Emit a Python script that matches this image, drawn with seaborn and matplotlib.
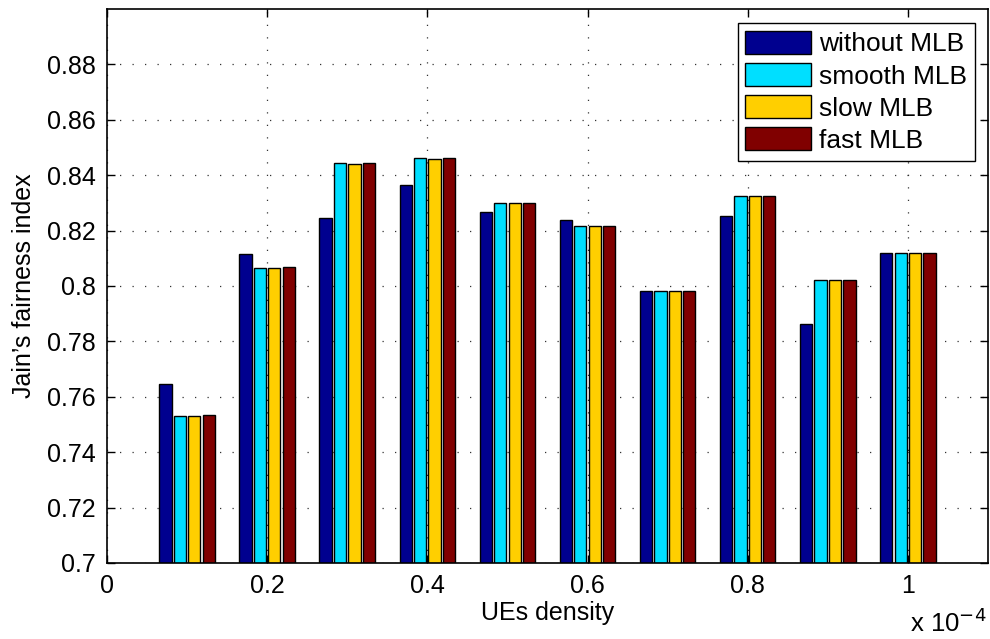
import matplotlib
matplotlib.use("Agg")
import matplotlib.pyplot as plt
import seaborn as sns
import pandas as pd

# ---- data ----
density = [0.1, 0.2, 0.3, 0.4, 0.5, 0.6, 0.7, 0.8, 0.9, 1.0]   # x 10^-4
schemes = ["without MLB", "smooth MLB", "slow MLB", "fast MLB"]
without_mlb = [0.7645, 0.8116, 0.8245, 0.8363, 0.8267, 0.8239, 0.7980, 0.8252, 0.7862, 0.8119]
smooth_mlb  = [0.7530, 0.8064, 0.8443, 0.8462, 0.8300, 0.8217, 0.7980, 0.8324, 0.8023, 0.8119]
slow_mlb    = [0.7530, 0.8064, 0.8440, 0.8460, 0.8300, 0.8217, 0.7980, 0.8324, 0.8023, 0.8119]
fast_mlb    = [0.7533, 0.8067, 0.8445, 0.8461, 0.8300, 0.8217, 0.7980, 0.8324, 0.8023, 0.8119]
xticks = [0, 0.2, 0.4, 0.6, 0.8, 1]
xticklabels = ["0", "0.2", "0.4", "0.6", "0.8", "1"]
yticks = [0.7, 0.72, 0.74, 0.76, 0.78, 0.8, 0.82, 0.84, 0.86, 0.88]
yticklabels = ["0.7", "0.72", "0.74", "0.76", "0.78", "0.8", "0.82", "0.84", "0.86", "0.88"]
colors = ["#00008F", "#00DFFF", "#FFCF00", "#800000"]

series = [without_mlb, smooth_mlb, slow_mlb, fast_mlb]
rows = []
for name, vals in zip(schemes, series):
    for d, v in zip(density, vals):
        rows.append({"density": d, "fairness": v, "scheme": name})
df = pd.DataFrame(rows)

sns.set_style("ticks")
plt.rcParams["font.family"] = ["Liberation Sans", "DejaVu Sans"]
plt.rcParams["font.size"] = 18
plt.rcParams["text.color"] = "black"
plt.rcParams["axes.labelcolor"] = "black"
plt.rcParams["xtick.color"] = "black"
plt.rcParams["ytick.color"] = "black"
plt.rcParams["axes.edgecolor"] = "black"

fig = plt.figure(figsize=(9.9, 6.39), dpi=100)
ax = fig.add_axes([0.108, 0.119, 0.890, 0.867])

sns.barplot(data=df, x="density", y="fairness", hue="scheme", hue_order=schemes,
            palette=colors, saturation=1, native_scale=True, width=0.72, gap=0.15,
            edgecolor="black", linewidth=1.0, errorbar=None, ax=ax)

ax.set_xlim(0, 1.1)
ax.set_ylim(0.7, 0.9)
ax.set_xticks(xticks)
ax.set_xticklabels(xticklabels)
ax.set_yticks(yticks)
ax.set_yticklabels(yticklabels)
ax.tick_params(direction="in", top=True, right=True, length=6, width=1,
               labelsize=18, pad=8, colors="black")
for s in ax.spines.values():
    s.set_linewidth(1.2)
    s.set_color("black")
    s.set_visible(True)
ax.set_axisbelow(True)
ax.grid(True, linestyle=(0, (1, 9)), color="#333333", linewidth=0.9)

ax.set_xlabel("UEs density", fontsize=18, labelpad=2, color="black")
ax.set_ylabel("Jain\u2019s fairness index", fontsize=18, labelpad=8, color="black")
ax.text(0.998, -0.083, r"x 10$^{-4}$", transform=ax.transAxes, ha="right", va="top",
        fontsize=18.5, color="black")

leg = ax.legend(loc="upper right", bbox_to_anchor=(0.9915, 0.984), fontsize=19,
                handlelength=2.5, handleheight=0.95, labelspacing=0.25,
                handletextpad=0.3, borderpad=0.3, borderaxespad=0.2,
                fancybox=False, framealpha=1, edgecolor="black")
leg.get_frame().set_linewidth(1.0)
for t in leg.get_texts():
    t.set_color("black")

fig.savefig("out.png", dpi=100)
